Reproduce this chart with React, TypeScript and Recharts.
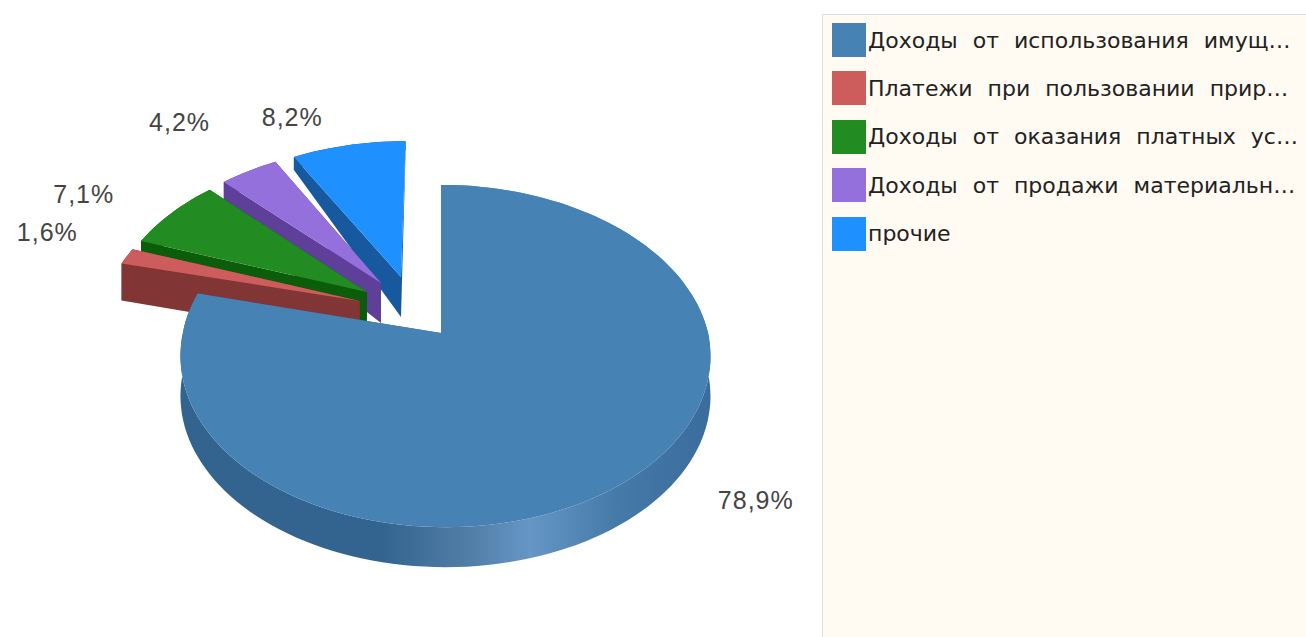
import { Legend, Pie, PieChart } from "recharts";

// drawn back to front, so the big slice comes last and covers the others
const categories = [
  "прочие",
  "Доходы от продажи материальн…",
  "Доходы от оказания платных ус…",
  "Платежи при пользовании прир…",
  "Доходы от использования имущ…",
];
const shares = [8.2, 4.2, 7.1, 1.6, 78.9];
const legendOrder = [
  "Доходы от использования имущ…",
  "Платежи при пользовании прир…",
  "Доходы от оказания платных ус…",
  "Доходы от продажи материальн…",
  "прочие",
];

const topColors = ["#1E90FF", "#9370DB", "#228B22", "#CD5C5C", "#4682B4"];
const sideColors = ["#17599f", "#5e3f9a", "#0b5c0b", "#823535", "url(#rim)"];
const labelNudge = [
  [-45, 0],
  [-40, -24],
  [-43, -1],
  [-24, -14],
  [82, -24],
];

const tableData = categories.map((name, i) => ({
  name,
  value: shares[i],
  fill: topColors[i],
}));

const TILT = 0.64;
const PERSPECTIVE = 0.1345;
const MAIN_EXPLODE = 0.165;
const SMALL_EXPLODE = 0.226;
const BASE_U = -0.1017;
const BASE_V = 0.13;
const MAIN_ARC_SHIFT = 4.5;
const RAD = Math.PI / 180;

function project(cx: number, cy: number, r: number, u: number, v: number) {
  const w = 1 + PERSPECTIVE * v;
  return { x: cx + (r * u) / w, y: cy - (r * TILT * v) / w };
}

// slices sink less far from the viewer
function drop(y: number) {
  return Math.min(40, 13 + (y - 157) * 0.225);
}

function sliceOrigin(midAngle: number, percent: number) {
  const e = percent > 0.5 ? MAIN_EXPLODE : SMALL_EXPLODE;
  return {
    u: BASE_U + e * Math.cos(midAngle * RAD),
    v: BASE_V + e * Math.sin(midAngle * RAD),
  };
}

function toPath(points: { x: number; y: number }[]) {
  return "M" + points.map((p) => `${p.x.toFixed(1)},${p.y.toFixed(1)}`).join("L") + "Z";
}

function PerspectiveSlice(props: any) {
  const { cx, cy, outerRadius, startAngle, endAngle, fill, percent, index } = props;
  const mid = (startAngle + endAngle) / 2;
  const o = sliceOrigin(mid, percent);
  const apex = project(cx, cy, outerRadius, o.u, o.v);
  const steps = Math.max(6, Math.round(Math.abs(endAngle - startAngle) / 2));
  const arc = [];
  for (let i = 0; i <= steps; i++) {
    const a = (startAngle + ((endAngle - startAngle) * i) / steps) * RAD;
    const p = project(cx, cy, outerRadius, o.u + Math.cos(a), o.v + Math.sin(a));
    // the big disc sits a little right of its own apex in the picture
    if (percent > 0.5) p.x += MAIN_ARC_SHIFT * (1 - Math.max(0, Math.sin(a)));
    arc.push(p);
  }
  const lower = (p: { x: number; y: number }) => ({ x: p.x, y: p.y + drop(p.y) });
  const first = arc[0];
  const last = arc[arc.length - 1];
  const side = sideColors[index ?? categories.indexOf(props.name)];
  return (
    <g>
      {percent > 0.5 && (
        <defs>
          <linearGradient id="rim" gradientUnits="userSpaceOnUse" x1="181" y1="0" x2="710" y2="0">
            <stop offset="0" stopColor="#33648f" />
            <stop offset="0.38" stopColor="#33648f" />
            <stop offset="0.55" stopColor="#527fa8" />
            <stop offset="0.66" stopColor="#6596c6" />
            <stop offset="0.82" stopColor="#467aa9" />
            <stop offset="1" stopColor="#3a6c9d" />
          </linearGradient>
        </defs>
      )}
      <path d={toPath([apex, first, lower(first), lower(apex)])} fill={side} />
      <path d={toPath([apex, last, lower(last), lower(apex)])} fill={side} />
      <path d={toPath([...arc, ...arc.map(lower).reverse()])} fill={side} />
      <path d={toPath([apex, ...arc])} fill={fill} />
    </g>
  );
}

function renderLabel(props: any) {
  const { cx, cy, midAngle, outerRadius, percent, value, index } = props;
  const o = sliceOrigin(midAngle, percent);
  const u = o.u + 1.25 * Math.cos(midAngle * RAD);
  const v = o.v + 1.25 * Math.sin(midAngle * RAD);
  const p = project(cx, cy, outerRadius, u, v);
  return (
    <text
      x={p.x + labelNudge[index][0]}
      y={p.y + labelNudge[index][1]}
      textAnchor="middle"
      dominantBaseline="central"
      fontFamily="'Liberation Sans', sans-serif"
      fontSize={25}
      letterSpacing={1}
      fill="#444"
    >
      {value.toFixed(1).replace(".", ",") + "%"}
    </text>
  );
}

function LegendBox({ payload }: any) {
  const items = [...(payload ?? [])].sort(
    (a: any, b: any) => legendOrder.indexOf(a.value) - legendOrder.indexOf(b.value)
  );
  return (
    <div
      style={{
        width: 484,
        height: 623,
        boxSizing: "border-box",
        background: "#FFFBF3",
        border: "1px solid #dcdcdc",
        borderRight: "none",
        borderBottom: "none",
        paddingTop: 8,
        paddingLeft: 9,
      }}
    >
      {items.map((item: any) => (
        <div key={item.value} style={{ display: "flex", alignItems: "center", height: 34, marginBottom: 14.4 }}>
          <span style={{ width: 34, height: 34, background: item.color, flexShrink: 0 }} />
          <span
            style={{
              marginLeft: 2,
              fontFamily: "'DejaVu Sans', sans-serif",
              fontSize: 22,
              wordSpacing: 8,
              color: "#222",
              whiteSpace: "nowrap",
            }}
          >
            {item.value}
          </span>
        </div>
      ))}
    </div>
  );
}

export default function App() {
  return (
    <div style={{ width: 1306, height: 637, overflow: "hidden", background: "#fff" }}>
      <style>{"body{margin:0}"}</style>
      <PieChart width={1306} height={637} margin={{ top: 0, right: 0, bottom: 0, left: 0 }}>
        <Pie
          data={tableData}
          dataKey="value"
          nameKey="name"
          cx={441}
          cy={333}
          innerRadius={0}
          outerRadius={262.6}
          startAngle={90}
          endAngle={450}
          stroke="none"
          isAnimationActive={false}
          labelLine={false}
          label={renderLabel}
          shape={PerspectiveSlice}
        />
        <Legend
          content={LegendBox}
          wrapperStyle={{ position: "absolute", left: 822, top: 14, width: 484, height: 623, bottom: "auto" }}
        />
      </PieChart>
    </div>
  );
}
